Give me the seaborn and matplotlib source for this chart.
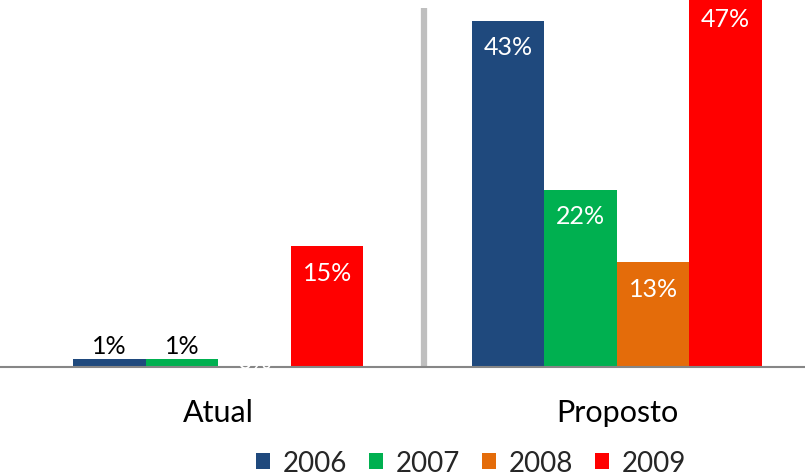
import matplotlib
matplotlib.use("Agg")
import matplotlib.pyplot as plt
import seaborn as sns
import pandas as pd
from matplotlib.patches import Patch

groups = ["Atual", "Proposto"]
years = ["2006", "2007", "2008", "2009"]
atual = [1, 1, 0, 15]
proposto = [43, 22, 13, 47]
colors = ["#1F497D", "#00B050", "#E46C0A", "#FF0000"]

df = pd.DataFrame({
    "grupo": [g for g in groups for _ in years],
    "ano": years * 2,
    "valor": atual + proposto,
})

sns.set_theme(style="white")
plt.rcParams["font.family"] = ["Lato", "DejaVu Sans"]

W, H = 805, 477
fig = plt.figure(figsize=(W / 100, H / 100), dpi=100)
ax = fig.add_axes([0, 109 / H, 1, 368 / H])

sns.barplot(data=df, x="grupo", y="valor", hue="ano", hue_order=years,
            palette=colors, width=0.728, gap=0, saturation=1,
            errorbar=None, legend=False, linewidth=0, ax=ax)

ytop = 45.7
ax.set_ylim(0, ytop)
ax.set_xlim(-0.548, 1.472)
ppu = 368 / ytop  # pixels per percentage point

for s in ("top", "right", "left"):
    ax.spines[s].set_visible(False)
ax.spines["bottom"].set_color("#868686")
ax.spines["bottom"].set_linewidth(1.5)
ax.spines["bottom"].set_zorder(3)

ax.set_yticks([])
ax.set_xlabel("")
ax.set_ylabel("")
ax.tick_params(axis="x", length=0, pad=22, labelsize=22, labelcolor="#000000")

# divider between the two groups
ax.axvline(0.515, ymin=0, ymax=0.975, color="#BFBFBF", lw=4.5,
           solid_capstyle="butt", zorder=1)

# value labels
for container, year in zip(ax.containers, years):
    for bar in container:
        v = bar.get_height()
        x = bar.get_x() + bar.get_width() / 2
        txt = f"{v:.0f}%"
        if v == 0:
            ax.text(x, 6 / ppu, txt, ha="center", va="center",
                    color="white", fontsize=18, zorder=5)
        elif v < 5:
            ax.text(x, v + 13 / ppu, txt, ha="center", va="center",
                    color="black", fontsize=18, zorder=5)
        else:
            y = min(v - 26 / ppu, ytop - 20 / ppu)
            ax.text(x, y, txt, ha="center", va="center",
                    color="white", fontsize=18, zorder=5)

handles = [Patch(facecolor=c, edgecolor="none", label=y) for c, y in zip(colors, years)]
fig.legend(handles=handles, loc="center", bbox_to_anchor=(0.585, 0.027),
           ncol=4, frameon=False, fontsize=20,
           handlelength=0.5, handleheight=0.5, handletextpad=0.45,
           columnspacing=0.8, borderpad=0, borderaxespad=0)

fig.savefig("out.png", dpi=100)
